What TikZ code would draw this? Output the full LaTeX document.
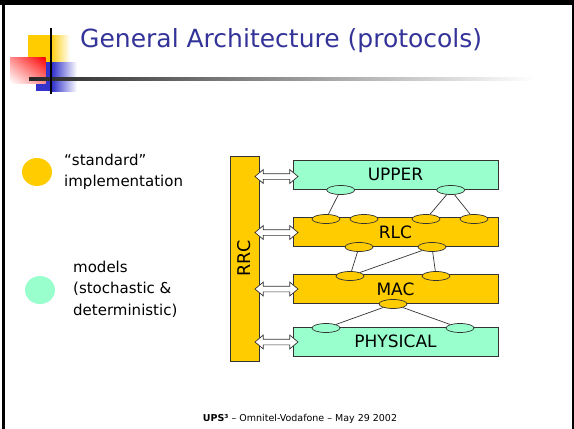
\documentclass[tikz,border=0pt]{standalone}
\usepackage{fontspec}
\setmainfont{DejaVu Sans}
\usetikzlibrary{shapes.geometric,shapes.arrows,shadings}
\definecolor{stdyel}{HTML}{FFCC00}
\definecolor{modaqua}{HTML}{99FFCC}
\definecolor{titleblue}{HTML}{333399}
\definecolor{logoblue}{HTML}{3333CC}
\definecolor{edge}{HTML}{333333}
\tikzset{
  layer/.style={draw=edge, line width=0.8pt, minimum width=205pt, minimum height=29pt, inner sep=0pt, font=\fontsize{17}{18}\selectfont},
  port/.style={ellipse, draw=edge, line width=0.7pt, minimum width=28pt, minimum height=9pt, inner sep=0pt},
  link/.style={draw=edge, line width=0.7pt},
  sap/.style={double arrow, draw=edge, fill=white, line width=0.7pt, minimum height=43pt, minimum width=0pt, double arrow head extend=4pt, double arrow tip angle=80, inner sep=2.5pt},
  legdot/.style={ellipse, minimum width=30pt, minimum height=28pt, inner sep=0pt},
  legtext/.style={anchor=west, align=left, inner sep=0pt, font=\fontsize{15}{21.5}\selectfont}
}
\begin{document}
\begin{tikzpicture}[x=1pt,y=-1pt]
\useasboundingbox (0,0) rectangle (574,429);
% frame
\fill[black] (0,0) rectangle (574,5);
\fill[black] (1.5,0) rectangle (4.5,429);
\fill[black] (571.5,0) rectangle (574,429);
% logo
\fill[stdyel] (28,35) rectangle (50,62);
\shade[left color=stdyel, right color=white] (50,35) rectangle (70,62);
\fill[logoblue] (36,62) rectangle (52,91);
\shade[left color=logoblue, right color=white] (52,62) rectangle (77,91);
\shade[upper right=red, lower left=white, upper left=red!45, lower right=red!45] (10,57) rectangle (45.5,83);
\shade[left color=black!85, right color=white] (29,77.2) rectangle (535,80.8);
\fill[black] (50,28) rectangle (52.3,94);
% title
\node[anchor=base west, inner sep=0pt, text=titleblue, font=\fontsize{25}{30}\selectfont] (title) at (80,47) {General Architecture (protocols)};
% legend
\node[legdot, fill=stdyel] (ldot1) at (37,172) {};
\node[legtext] (ltxt1) at (64,172) {“standard”\\implementation};
\node[legdot, fill=modaqua] (ldot2) at (40,290) {};
\node[legtext] (ltxt2) at (73,289) {models\\(stochastic \&\\deterministic)};
% RRC
\node[draw=edge, line width=0.8pt, fill=stdyel, rotate=90, minimum width=205pt, minimum height=29pt, inner sep=0pt, font=\fontsize{17.5}{18}\selectfont] (rrc) at (244.5,258.5) {RRC};
% layers
\node[layer, fill=modaqua] (upper) at (395.5,174.5) {UPPER};
\node[layer, fill=stdyel] (rlc) at (395.5,232) {RLC};
\node[layer, fill=stdyel] (mac) at (395.5,289) {MAC};
\node[layer, fill=modaqua] (phy) at (395.5,341.5) {PHYSICAL};
% SAP arrows
\node[sap] (a1) at (276.5,176.5) {};
\node[sap] (a2) at (276.5,232.5) {};
\node[sap] (a3) at (276.5,289) {};
\node[sap] (a4) at (276.5,342) {};
% ports
\node[port, fill=modaqua] (u1) at (340.7,190) {};
\node[port, fill=modaqua] (u2) at (450.7,190) {};
\node[port, fill=stdyel] (r1) at (326,219) {};
\node[port, fill=stdyel] (r2) at (364,219) {};
\node[port, fill=stdyel] (r3) at (426,219) {};
\node[port, fill=stdyel] (r4) at (474,219) {};
\node[port, fill=stdyel] (r5) at (359,247) {};
\node[port, fill=stdyel] (r6) at (432,247) {};
\node[port, fill=stdyel] (m1) at (350,276) {};
\node[port, fill=stdyel] (m2) at (436,276) {};
\node[port, fill=stdyel] (m3) at (393,304) {};
\node[port, fill=modaqua] (p1) at (326,328) {};
\node[port, fill=modaqua] (p2) at (460,328) {};
% links
\draw[link] (u1) -- (r1);
\draw[link] (u2) -- (r3);
\draw[link] (u2) -- (r4);
\draw[link] (r5) -- (m1);
\draw[link] (r6) -- (m1);
\draw[link] (r6) -- (m2);
\draw[link] (m3) -- (p1);
\draw[link] (m3) -- (p2);
% footer
\node[anchor=base, inner sep=0pt, font=\fontsize{9.5}{10}\selectfont] (foot) at (300,421.5) {\textbf{UPS³} – Omnitel-Vodafone – May 29 2002};
\end{tikzpicture}
\end{document}
